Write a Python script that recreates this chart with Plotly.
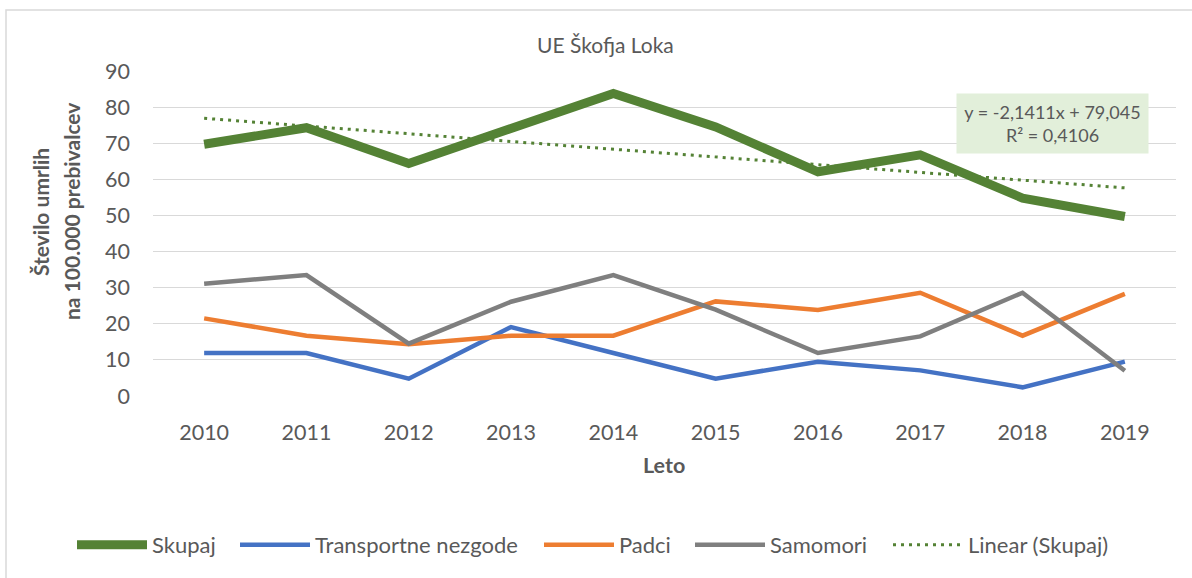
import plotly.graph_objects as go

# Data: deaths per 100.000 inhabitants, UE Škofja Loka
leta = ["2010", "2011", "2012", "2013", "2014", "2015", "2016", "2017", "2018", "2019"]
skupaj = [69.7, 74.3, 64.4, 74.0, 83.8, 74.5, 62.1, 66.8, 54.8, 49.7]
transportne_nezgode = [11.9, 11.9, 4.8, 19.1, 11.9, 4.8, 9.5, 7.1, 2.4, 9.5]
padci = [21.5, 16.7, 14.3, 16.7, 16.7, 26.2, 23.8, 28.6, 16.7, 28.3]
samomori = [31.1, 33.5, 14.5, 26.1, 33.5, 23.9, 11.9, 16.5, 28.6, 7.0]

# Linear trendline of "Skupaj" (x = 1..10)
trend_slope = -2.1411
trend_intercept = 79.045
trend_r2 = 0.4106

W, H = 1192, 578
PLOT_L, PLOT_R, PLOT_T, PLOT_B = 153, 1176, 71, 396
FONT = "Lato"
GREY_TXT = "#595959"


def px(xp):
    return (xp - PLOT_L) / (PLOT_R - PLOT_L)


def py(yp):
    return (PLOT_B - yp) / (PLOT_B - PLOT_T)


trend = [trend_intercept + trend_slope * (i + 1) for i in range(len(leta))]

# (name, values, colour, width, dash, legend id, legend left edge in px)
series = [
    ("Skupaj", skupaj, "#548235", 9, None, "legend", 72),
    ("Transportne nezgode", transportne_nezgode, "#4472C4", 4.5, None, "legend2", 235),
    ("Padci", padci, "#ED7D31", 4.5, None, "legend3", 539),
    ("Samomori", samomori, "#7F7F7F", 4.5, None, "legend4", 690),
    ("Linear (Skupaj)", trend, "#548235", 3, "3px,5px", "legend5", 888),
]

fig = go.Figure()
legends = {}
for name, vals, color, width, dash, leg, lx in series:
    line = dict(color=color, width=width)
    if dash:
        line["dash"] = dash
    fig.add_trace(go.Scatter(x=leta, y=vals, name=name, mode="lines", line=line, legend=leg))
    legends[leg] = dict(orientation="h", x=px(lx), xanchor="left", y=py(545),
                        yanchor="middle", bgcolor="rgba(0,0,0,0)",
                        font=dict(family=FONT, size=22, color=GREY_TXT), itemwidth=70)

fig.update_layout(
    width=W, height=H,
    margin=dict(l=PLOT_L, r=W - PLOT_R, t=PLOT_T, b=H - PLOT_B),
    paper_bgcolor="white", plot_bgcolor="white",
    font=dict(family=FONT, size=20, color=GREY_TXT),
    showlegend=True,
    xaxis=dict(type="category", range=[-0.5, 9.5], showgrid=False, showline=False,
               zeroline=False, ticks="", ticklabelstandoff=21,
               tickfont=dict(family=FONT, size=21.5, color=GREY_TXT)),
    yaxis=dict(range=[0, 90], dtick=10, showgrid=True, gridcolor="#D9D9D9", gridwidth=1.3,
               zeroline=False, showline=False, ticks="", ticklabelstandoff=22,
               tickfont=dict(family=FONT, size=21.5, color=GREY_TXT)),
    shapes=[dict(type="rect", xref="paper", yref="paper",
                 x0=px(6), x1=px(W + 20), y0=py(H + 20), y1=py(10),
                 line=dict(color="#D9D9D9", width=1.5), fillcolor="rgba(0,0,0,0)",
                 layer="below")],
    annotations=[
        dict(text="UE Škofja Loka", xref="paper", yref="paper", x=px(605.5), y=py(45),
             xanchor="center", yanchor="middle", showarrow=False,
             font=dict(family=FONT, size=21, color=GREY_TXT)),
        dict(text="<b>Število umrlih</b>", xref="paper", yref="paper", x=px(40), y=py(212),
             xanchor="center", yanchor="middle", textangle=-90, showarrow=False,
             font=dict(family=FONT, size=21, color=GREY_TXT)),
        dict(text="<b>na 100.000 prebivalcev</b>", xref="paper", yref="paper", x=px(71),
             y=py(212), xanchor="center", yanchor="middle", textangle=-90, showarrow=False,
             font=dict(family=FONT, size=21, color=GREY_TXT)),
        dict(text="<b>Leto</b>", xref="paper", yref="paper", x=px(664), y=py(465),
             xanchor="center", yanchor="middle", showarrow=False,
             font=dict(family=FONT, size=21.5, color=GREY_TXT)),
        dict(text=("y = %s" % f"{trend_slope:.4f}x + {trend_intercept:.3f}").replace(".", ",")
             + "<br>R² = " + f"{trend_r2:.4f}".replace(".", ","),
             xref="paper", yref="paper", x=px(1052), y=py(123.5),
             xanchor="center", yanchor="middle", showarrow=False, align="center",
             width=189, height=57, bgcolor="#E2EFDA",
             font=dict(family=FONT, size=18, color=GREY_TXT)),
    ],
    **legends,
)

fig.write_html("out.html")
